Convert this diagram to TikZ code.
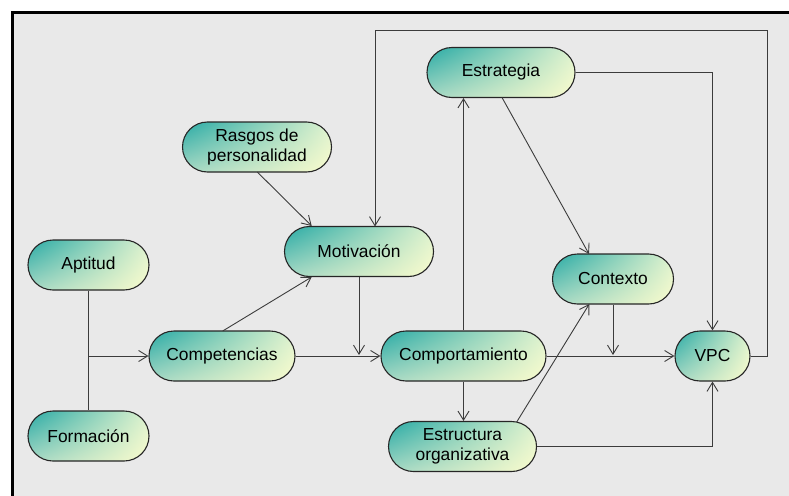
\documentclass[tikz,border=0pt]{standalone}
\usepackage{fontspec}
\setmainfont{Liberation Sans}
\usetikzlibrary{arrows.meta,shadings}
\definecolor{panel}{RGB}{233,233,233}
\definecolor{wire}{RGB}{60,60,60}
\definecolor{tealc}{RGB}{40,170,165}
\definecolor{midA}{RGB}{165,216,196}
\definecolor{midB}{RGB}{222,242,207}
\definecolor{paley}{RGB}{250,252,205}
% node shapes are not flipped by y=-1pt, so corner names keep their meaning
\tikzset{
  box/.style={rectangle, rounded corners=25pt, draw=black!85, line width=1.1pt,
    minimum height=50pt, inner xsep=4pt, align=center,
    font=\fontsize{17.4}{20}\selectfont,
    upper left=tealc, lower left=midA, upper right=midB, lower right=paley},
  link/.style={draw=wire, line width=0.9pt},
  arr/.style={link, -{Straight Barb[length=9pt,width=11pt,line width=0.9pt]}},
}
\begin{document}
\begin{tikzpicture}[x=1pt,y=-1pt]
  % canvas and framed panel
  \useasboundingbox (0,0) rectangle (789,495);
  \fill[white] (0,0) rectangle (789,495);
  \fill[panel] (12.5,12.5) rectangle (795,500);
  \draw[black, line width=2.6pt] (12.3,500) -- (12.3,12.3) -- (795,12.3);

  % nodes
  \node[box, minimum width=121pt] (apt)  at (88.5,265)  {Aptitud};
  \node[box, minimum width=121pt] (form) at (88.5,436)  {Formación};
  \node[box, minimum width=146pt] (comp) at (222,356)   {Competencias};
  \node[box, minimum width=149pt] (ras)  at (257,147)   {Rasgos de\\personalidad};
  \node[box, minimum width=149pt] (mot)  at (359,251.5) {Motivación};
  \node[box, minimum width=165pt] (cpt)  at (463.5,356) {Comportamiento};
  \node[box, minimum width=148pt] (est)  at (462.5,446.5) {Estructura\\organizativa};
  \node[box, minimum width=148pt] (estr) at (501,72.5)  {Estrategia};
  \node[box, minimum width=121pt] (ctx)  at (613,279)   {Contexto};
  \node[box, minimum width=75pt]  (vpc)  at (712.5,356) {VPC};

  % junction points
  \coordinate (j1) at (89,356);
  \coordinate (j2) at (359,355);
  \coordinate (j3) at (613,355);

  % Aptitud / Formacion feed into Competencias
  \draw[link] (apt.south) -- (form.north);
  \draw[arr] (j1) -- (comp.west);

  % Competencias
  \draw[arr] (comp.east) -- (cpt.west);
  \draw[arr] (222.7,331) -- (311.7,277);

  % Rasgos -> Motivacion
  \draw[arr] (257.3,172) -- (311.7,226);
  % Motivacion -> main line
  \draw[arr] (mot.south) -- (j2);

  % Comportamiento
  \draw[arr] (cpt.north) -- (cpt.north |- estr.south);
  \draw[arr] (cpt.south) -- (cpt.south |- est.north);
  \draw[arr] (cpt.east) -- (vpc.west);

  % Estrategia
  \draw[arr] (502,97.5) -- (589,254);
  \draw[arr] (estr.east) -| (vpc.north);

  % Estructura
  \draw[arr] (516.7,422) -- (589.3,304);
  \draw[arr] (est.east) -| (vpc.south);

  % Contexto -> main line
  \draw[arr] (ctx.south) -- (j3);

  % feedback loop from VPC back to Motivacion
  \draw[arr] (vpc.east) -- (767.3,356) -- (767.3,30.7) -- (375,30.7) -- (375,226.5);
\end{tikzpicture}
\end{document}
